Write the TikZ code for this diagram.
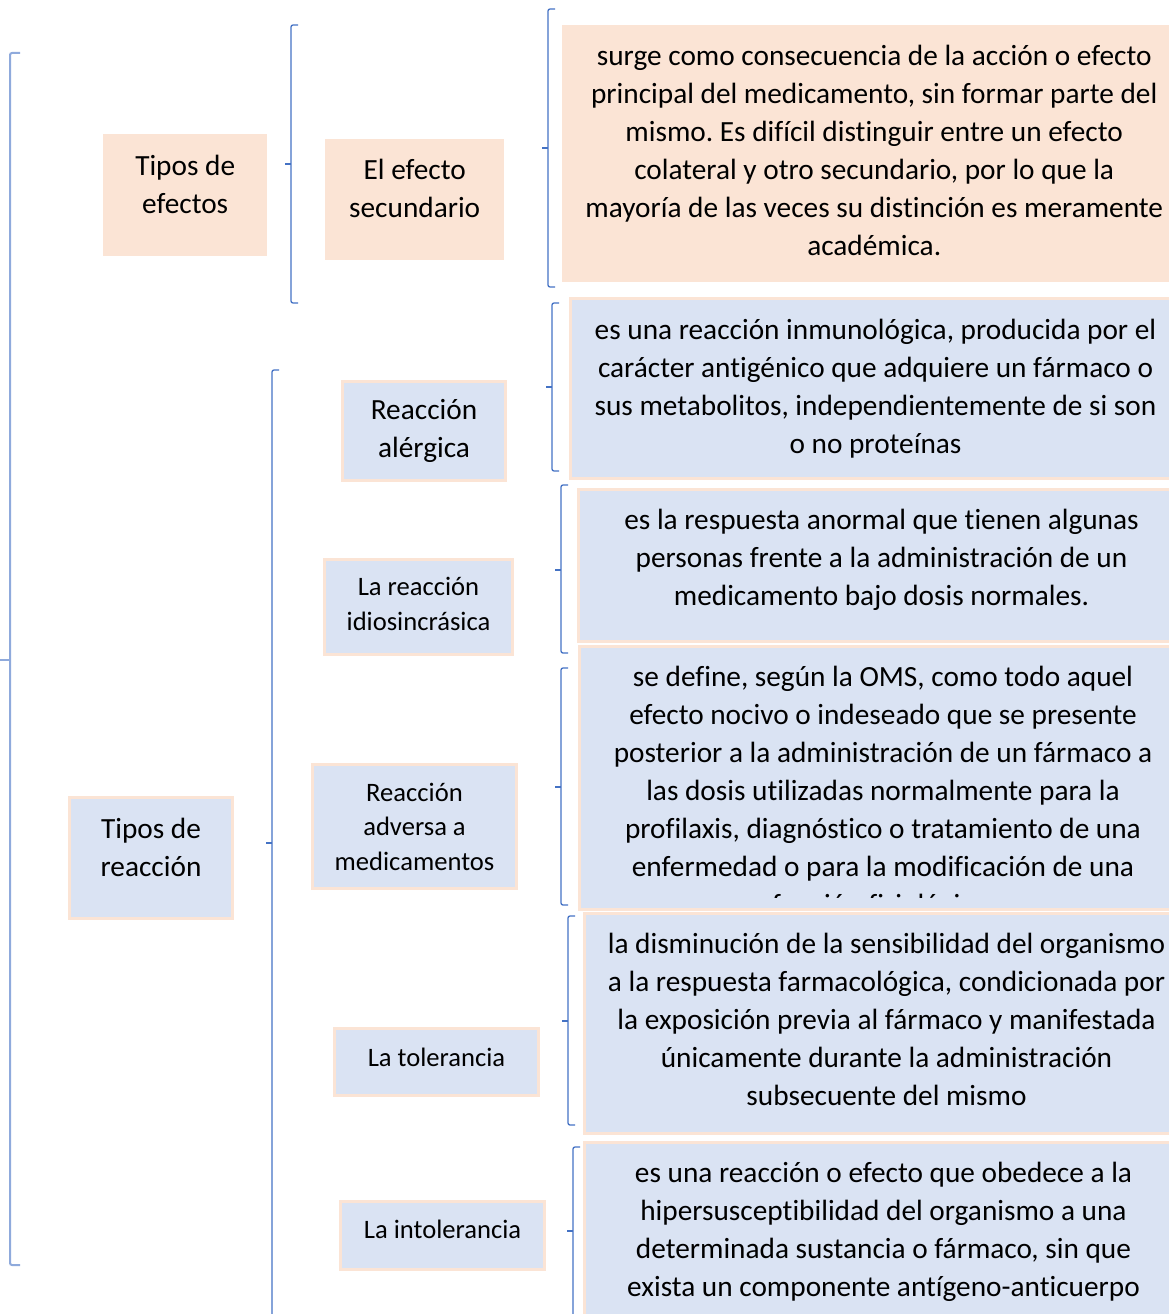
\documentclass[tikz,border=0pt]{standalone}
\usepackage{fontspec}
\setmainfont{Carlito}[RawFeature=-liga]
\definecolor{peach}{HTML}{FBE4D5}
\definecolor{lblue}{HTML}{DAE3F3}
\definecolor{brk}{HTML}{4472C4}
\definecolor{brkl}{HTML}{8FAADC}
\newcommand\mybrk[5]{%
  \coordinate (#5) at (#1,#4);
  \draw[brace] ({#1+7},#2) -- (#1,#2) -- (#1,#3) -- ({#1+7},#3);
  \draw[brace] (#5) -- ++(-6,0);}
\begin{document}
\frenchspacing
\begin{tikzpicture}[x=1pt,y=-1pt,
  pbox/.style={fill=peach, draw=none, inner sep=0pt, anchor=north west},
  bbox/.style={fill=lblue, draw=peach, line width=3pt, inner sep=0pt, anchor=north west},
  big/.style={font=\fontsize{29.3}{38}\selectfont, align=center, inner sep=0pt},
  small/.style={font=\fontsize{26.6}{34.5}\selectfont, align=center, inner sep=0pt},
  brace/.style={draw=brk, line width=1.3pt, rounded corners=2pt},
  bracel/.style={draw=brkl, line width=2pt, rounded corners=2pt}]
\useasboundingbox (0,0) rectangle (1169,1314);
\clip (0,0) rectangle (1169,1314);

% outer bracket
\coordinate (b0) at (10,660);
\draw[bracel] (20,53) -- (10,53) -- (10,1265) -- (20,1265);
\draw[bracel] (b0) -- (0,660);

% top branch
\node[pbox,minimum width=164pt,minimum height=122pt] (te) at (103,134) {};
\node[big] (teT) at ([yshift=11pt]te.center) {Tipos de\\efectos};
\mybrk{291}{25}{303}{164}{b1}
\node[pbox,minimum width=179pt,minimum height=121pt] (es) at (325,139) {};
\node[big] (esT) at ([yshift=11pt]es.center) {El efecto\\secundario};
\mybrk{548}{9}{287}{148}{b2}
\node[pbox,minimum width=624pt,minimum height=257pt] (t1) at (562,25) {};
\node[big] (t1T) at ([yshift=3pt]t1.center) {surge como consecuencia de la acción o efecto\\principal del medicamento, sin formar parte del\\mismo. Es difícil distinguir entre un efecto\\colateral y otro secundario, por lo que la\\mayoría de las veces su distinción es meramente\\académica.};

% bottom branch
\node[bbox,minimum width=163pt,minimum height=121pt] (tr) at (68,796) {};
\node[big] (trT) at ([yshift=11pt]tr.center) {Tipos de\\reacción};
\mybrk{272}{370}{1340}{843}{b3}

\node[bbox,minimum width=163pt,minimum height=99pt] (ra) at (341,380) {};
\node[big] (raT) at (ra.center) {Reacción\\alérgica};
\mybrk{552}{303}{471}{387}{b4}
\node[bbox,minimum width=610pt,minimum height=180pt] (t2) at (569,297) {};
\node[big] (t2T) at (t2.center) {es una reacción inmunológica, producida por el\\carácter antigénico que adquiere un fármaco o\\sus metabolitos, independientemente de si son\\o no proteínas};

\node[bbox,minimum width=188pt,minimum height=95pt] (ri) at (323,558) {};
\node[small] (riT) at ([yshift=3pt]ri.center) {La reacción\\idiosincrásica};
\mybrk{561}{485}{653}{570}{b5}
\node[bbox,minimum width=606pt,minimum height=152pt] (t3) at (577,488) {};
\node[big] (t3T) at ([yshift=6pt]t3.center) {es la respuesta anormal que tienen algunas\\personas frente a la administración de un\\medicamento bajo dosis normales.};

\node[bbox,minimum width=204pt,minimum height=124pt] (rd) at (311,763) {};
\node[small] (rdT) at (rd.center) {Reacción\\adversa a\\medicamentos};
\mybrk{561}{668}{905}{787}{b6}
\node[bbox,minimum width=610pt,minimum height=263pt] (t4) at (578,645) {};
\begin{scope}
\clip (580,647) rectangle (1190,897);
\node[big,anchor=north] (t4T) at (883,666) {se define, según la OMS, como todo aquel\\efecto nocivo o indeseado que se presente\\posterior a la administración de un fármaco a\\las dosis utilizadas normalmente para la\\profilaxis, diagnóstico o tratamiento de una\\enfermedad o para la modificación de una\\función fisiológica.};
\end{scope}

\node[bbox,minimum width=204pt,minimum height=67pt] (tol) at (333,1027) {};
\node[small] (tolT) at ([yshift=5pt]tol.center) {La tolerancia};
\mybrk{568}{916}{1125}{1021}{b7}
\node[bbox,minimum width=604pt,minimum height=220pt] (t5) at (583,912) {};
\node[big] (t5T) at ([yshift=4pt]t5.center) {la disminución de la sensibilidad del organismo\\a la respuesta farmacológica, condicionada por\\la exposición previa al fármaco y manifestada\\únicamente durante la administración\\subsecuente del mismo};

\node[bbox,minimum width=204pt,minimum height=68pt] (int) at (339,1200) {};
\node[small] (intT) at ([yshift=6pt]int.center) {La intolerancia};
\mybrk{573}{1147}{1340}{1231}{b8}
\node[bbox,minimum width=598pt,minimum height=178pt] (t6) at (583,1141) {};
\node[big] (t6T) at (t6.center) {es una reacción o efecto que obedece a la\\hipersusceptibilidad del organismo a una\\determinada sustancia o fármaco, sin que\\exista un componente antígeno-anticuerpo};
\end{tikzpicture}
\end{document}
